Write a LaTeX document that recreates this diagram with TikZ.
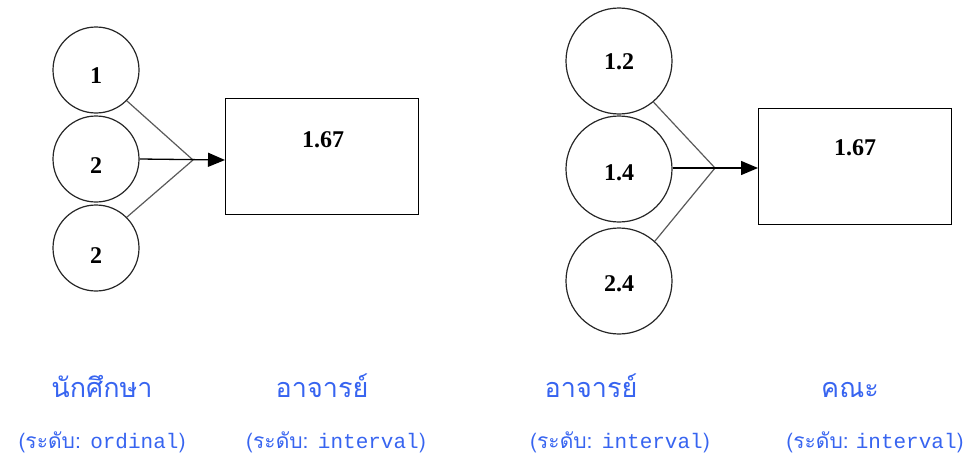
\documentclass[tikz,border=0pt]{standalone}
\usepackage{fontspec}
\setmainfont{Liberation Serif}
\newfontfamily\thaifont[Script=Thai]{Loma}
\newfontfamily\latinlabel{Liberation Mono}
\usetikzlibrary{arrows.meta}
\definecolor{labelblue}{RGB}{55,100,240}
\tikzset{
  valcircle/.style={draw=black!85, circle, line width=1.2pt, minimum size=#1, inner sep=0pt},
  valbox/.style={draw, rectangle, line width=1.2pt, anchor=north west, inner sep=0pt},
  numtext/.style={font=\fontsize{24}{24}\selectfont\bfseries},
  feed/.style={draw=black!65, line width=1.2pt},
  result/.style={line width=1.3pt, -{Triangle[length=17pt,width=14pt]}},
  thailabel/.style={text=labelblue, font=\thaifont\fontsize{27}{27}\selectfont, anchor=base},
  levellabel/.style={text=labelblue, font=\thaifont\fontsize{21}{21}\selectfont, anchor=base}
}
\newcommand{\lvl}[2]{(ระดับ:#1{\latinlabel\fontsize{21}{21}\selectfont #2})}
\begin{document}
\begin{tikzpicture}[x=1pt,y=-1pt]
\useasboundingbox (0,0) rectangle (976,463);

% left group: student scores combined into the teacher mean
\node[valcircle=86pt] (s1) at (96,70) {};
\node[valcircle=86pt] (s2) at (96,159) {};
\node[valcircle=86pt] (s3) at (96,248) {};
\node[numtext] at (96,76) {1};
\node[numtext] at (96,166) {2};
\node[numtext] at (96,256) {2};
\coordinate (m1) at (193,160);
\node[valbox, minimum width=193pt, minimum height=116pt] (b1) at (225,98) {};
\node[numtext] at (323,140) {1.67};
\draw[feed] (s1.-45) -- (m1);
\draw[feed] (s3.45) -- (m1);
\draw[result] (s2.east) -- (b1.west |- m1);

% right group: teacher means combined into the faculty mean
\node[valcircle=106pt] (t1) at (619,61) {};
\node[valcircle=106pt] (t2) at (619,169) {};
\node[valcircle=106pt] (t3) at (619,281) {};
\node[numtext] at (619,62) {1.2};
\node[numtext] at (619,173) {1.4};
\node[numtext] at (619,284) {2.4};
\coordinate (m2) at (715,168);
\node[valbox, minimum width=193pt, minimum height=116pt] (b2) at (758,108) {};
\node[numtext] at (855,148) {1.67};
\draw[feed] (t1.-50) -- (m2);
\draw[feed] (t3.48) -- (m2);
\draw[result] (t2.east |- m2) -- (b2.west |- m2);

% captions
\node[thailabel] (c1) at (102,397) {นักศึกษา};
\node[thailabel] (c2) at (322,397) {อาจารย์};
\node[thailabel] (c3) at (591,397) {อาจารย์};
\node[thailabel] (c4) at (850,397) {คณะ};
\node[levellabel] (l1) at (102,448) {\lvl{ }{ordinal}};
\node[levellabel] (l2) at (336,448) {\lvl{ }{interval}};
\node[levellabel] (l3) at (620,448) {\lvl{ }{interval}};
\node[levellabel] (l4) at (875,448) {\lvl{\ }{interval}};
\end{tikzpicture}
\end{document}
